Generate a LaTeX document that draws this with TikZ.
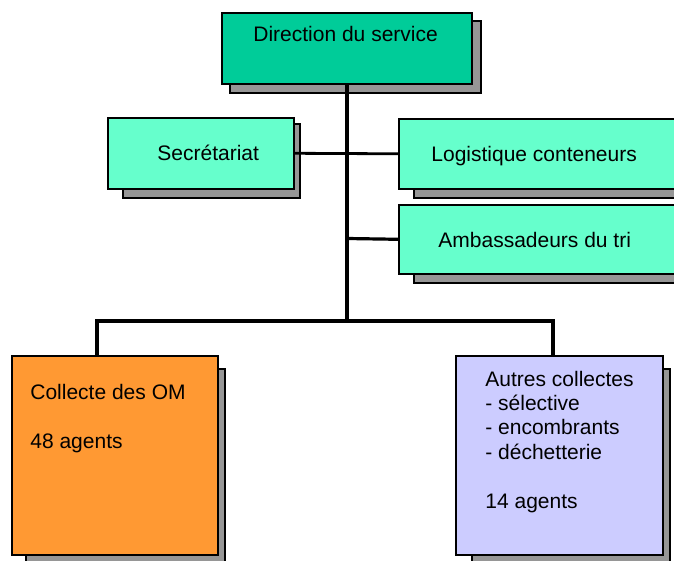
\documentclass[tikz,border=0pt]{standalone}
\usepackage{fontspec}
\setmainfont{Liberation Sans}
\definecolor{dirgreen}{HTML}{00CC99}
\definecolor{mint}{HTML}{66FFCC}
\definecolor{orangebox}{HTML}{FF9933}
\definecolor{lavender}{HTML}{CCCCFF}
\definecolor{shadowgray}{HTML}{969696}
\tikzset{
  orgbox/.style={draw=black, line width=0.8pt, inner sep=0pt, anchor=north west},
  shadowbox/.style={fill=shadowgray, draw=black, line width=0.8pt},
  conn/.style={line width=1.6pt},
  thinconn/.style={line width=1.4pt},
  lbl/.style={font=\fontsize{10.5pt}{12.2pt}\selectfont, inner sep=0pt, anchor=base west, align=left},
}
\begin{document}
\begin{tikzpicture}[x=0.5pt,y=-0.5pt]
\useasboundingbox (0,0) rectangle (674,561);
\clip (0,0) rectangle (674,561);
% shadows
\draw[shadowbox] (230,21) rectangle (481,93);
\draw[shadowbox] (123,124) rectangle (300,198);
\draw[shadowbox] (414,125) rectangle (705,198);
\draw[shadowbox] (414,211) rectangle (705,283);
\draw[shadowbox] (26,369) rectangle (225,575);
\draw[shadowbox] (472,369) rectangle (670,563);
% boxes
\node[orgbox, fill=dirgreen, minimum width=125pt, minimum height=35.5pt] (dir) at (221,12) {};
\node[orgbox, fill=mint, minimum width=93pt, minimum height=35.5pt] (sec) at (107,117) {};
\node[orgbox, fill=mint, minimum width=150pt, minimum height=35pt] (log) at (398,118) {};
\node[orgbox, fill=mint, minimum width=150pt, minimum height=34.5pt] (amb) at (398,204) {};
\node[orgbox, fill=orangebox, minimum width=103pt, minimum height=99.5pt] (col) at (11,355) {};
\node[orgbox, fill=lavender, minimum width=103.5pt, minimum height=99.5pt] (aut) at (455,355) {};
% labels
\node[lbl] (tdir) at (253,42) {Direction du service};
\node[lbl] (tsec) at (157,161) {Secrétariat};
\node[lbl] (tlog) at (431,162) {Logistique conteneurs};
\node[lbl] (tamb) at (438,248) {Ambassadeurs du tri};
\node[lbl] (tcol) at (30,448) {Collecte des OM\\[12.2pt]48 agents};
\node[lbl] (taut) at (485,508) {Autres collectes\\- sélective\\- encombrants\\- déchetterie\\[12.2pt]14 agents};
% connectors
\coordinate (tTop) at (347,83);
\coordinate (tAmb) at (347,238.5);
\coordinate (tBot) at (347,321);
\coordinate (bL) at (97,321);
\coordinate (bR) at (553,321);
\draw[conn] (dir.south -| tTop) -- (tBot);
\draw[thinconn] (sec.east) -- (log.west);
\draw[conn] (tAmb) -- (amb.west);
\draw[conn] (col.north -| bL) -- (bL) -- (bR) -- (aut.north -| bR);
\end{tikzpicture}
\end{document}
